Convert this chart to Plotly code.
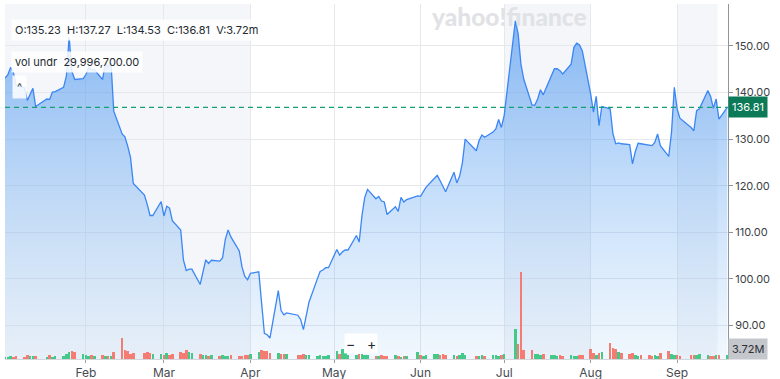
import plotly.graph_objects as go
import pandas as pd

# ---- data ----
holidays = ["2022-01-17", "2022-02-21", "2022-04-15", "2022-05-30",
            "2022-06-20", "2022-07-04", "2022-09-05"]

close_jan = [143.1, 143.8, 145.4, 144.3, 141.5, 141.0, 138.3, 139.5, 140.9, 137.0,
             138.6, 138.5, 140.1, 140.2, 141.1, 143.5, 151.9, 144.5, 142.8, 143.0]
close_feb = [143.8, 145.4, 144.9, 144.9, 142.8, 146.5, 145.4, 146.5, 136.0, 131.1,
             130.5, 128.5, 126.1, 120.5, 118.0, 116.0, 113.6, 113.6, 116.6]
close_mar = [113.5, 115.6, 115.2, 112.5, 110.5, 104.0, 101.8, 102.1, 102.1, 98.8,
             101.5, 104.1, 103.3, 104.0, 103.8, 104.5, 108.5, 110.5, 109.0, 106.0,
             102.5, 100.5, 99.8]
close_apr = [101.2, 101.5, 94.0, 88.3, 88.0, 87.3, 97.5, 93.2, 92.3, 92.7,
             92.2, 91.3, 89.1, 92.0, 95.0, 100.0, 101.6, 101.9, 102.4, 102.4]
close_may = [106.3, 105.1, 105.8, 106.2, 106.2, 109.3, 107.9, 113.6, 117.5, 119.2,
             117.2, 117.7, 116.7, 116.5, 113.8, 115.5, 114.5, 117.5, 116.5, 117.0, 117.8]
close_jun = [117.7, 118.7, 119.7, 121.6, 122.2, 121.1, 119.9, 118.7, 122.9, 120.6,
             122.0, 124.9, 130.0, 127.5, 129.7, 130.9, 130.4, 131.5, 132.2, 134.2, 132.5]
close_jul = [135.1, 155.4, 152.6, 146.1, 142.9, 137.3, 137.3, 138.6, 140.6, 139.5,
             143.5, 145.1, 145.1, 144.7, 144.0, 146.1, 149.7, 150.6, 150.2, 149.0]
close_aug = [139.7, 135.8, 139.2, 132.9, 137.0, 136.5, 131.1, 129.0, 129.2, 129.0,
             128.8, 124.7, 127.3, 129.1, 129.0, 128.8, 128.6, 129.3, 131.1, 128.6,
             126.3, 131.5, 141.1]
close_sep = [136.5, 134.5, 132.5, 131.8, 136.1, 136.5, 140.4, 139.2, 136.6, 138.6,
             134.3, 136.81]

volume_m = [2, 2, 3, 2, 3, 2, 4, 3, 3, 3, 2, 4, 2, 3, 3,
            5, 7, 8, 7, 5,
            4, 3, 4, 3, 4, 3, 3, 3,
            7, 21, 9, 8,
            5, 6, 6, 7, 6, 5, 5,
            4, 6, 4, 5, 7, 6, 9,
            7, 6, 5, 4, 4,
            3, 4, 3, 4, 3, 3, 4, 3, 3, 4,
            4, 5, 7, 9, 8, 8, 6,
            6, 5, 5, 5, 4, 4, 5,
            4, 4, 3, 4, 3, 3, 4, 8,
            5, 10, 6, 4, 4, 5, 5,
            4, 4, 3, 3, 4, 3, 3, 4, 3, 2,
            3, 3, 7,
            4, 3, 4, 5, 5, 4, 5, 4, 4, 3, 4, 6, 4, 3,
            3, 4, 3, 4, 4, 3, 4, 5,
            30, 15, 87,
            9, 9, 5, 5, 4, 5, 4, 4,
            3, 4, 3, 4, 3, 3, 4, 4,
            10, 6, 4, 6, 7, 16, 11, 10, 7, 6, 5, 6,
            4, 3, 4, 4, 3, 4, 3,
            6, 8,
            5, 4, 4, 3, 4, 4,
            4, 5, 4, 3, 3, 4, 4, 3.72]

price_ticks = [90, 100, 110, 120, 130, 140, 150]
last_price = 136.81
ohlc_text = "O:135.23\u00a0\u00a0H:137.27\u00a0\u00a0L:134.53\u00a0\u00a0C:136.81\u00a0\u00a0V:3.72m"
vol_text = "vol undr\u00a0\u00a029,996,700.00"
last_vol_text = "3.72M"

shaded_periods = [("2022-01-01", "2022-04-01"), ("2022-07-01", "2022-08-01"),
                  ("2022-09-01", "2022-09-15 12:00")]

# ---- build ----
close = close_jan + close_feb + close_mar + close_apr + close_may + close_jun + close_jul + close_aug + close_sep
dates = pd.bdate_range("2022-01-03", "2022-09-19", freq="C", holidays=holidays)
n = min(len(dates), len(close), len(volume_m))
dates = dates[:n]
close = close[:n]
volume_m = volume_m[:n]

GREEN = "#45c98b"
RED = "#f47c72"
vol_colors = [GREEN] + [GREEN if close[i] >= close[i - 1] else RED for i in range(1, n)]

FONT = "Inter, Roboto, sans-serif"

# plot area in pixels
L, R, T, B = 5, 52, 4, 20
W = 780 - L - R
H = 379 - T - B
BOTTOM = 379 - B

fig = go.Figure()
fig.add_trace(go.Scatter(
    x=dates, y=close, mode="lines",
    line=dict(color="#3a86f5", width=1.3),
    fill="tozeroy",
    fillgradient=dict(type="vertical",
                      colorscale=[[0, "rgba(110,175,240,0.10)"], [1, "rgba(40,130,240,0.55)"]],
                      start=83, stop=156),
    hoverinfo="skip",
))
fig.add_trace(go.Bar(
    x=dates, y=volume_m, yaxis="y2",
    marker=dict(color=vol_colors, line=dict(width=0)),
    width=0.92 * 86400000,
    hoverinfo="skip",
))

shapes = []
for a, b in shaded_periods:
    shapes.append(dict(type="rect", xref="x", yref="paper", x0=a, x1=b, y0=0, y1=1,
                       fillcolor="#f4f6f9", line=dict(width=0), layer="below"))
shapes.append(dict(type="line", xref="paper", yref="y", x0=0, x1=1, y0=last_price, y1=last_price,
                   line=dict(color="#16a06f", width=1.1, dash="5px,4px"), layer="above"))


def px(X):
    return (X - L) / W


def py(Y):
    return (BOTTOM - Y) / H


annotations = [
    dict(text=ohlc_text, xref="paper", yref="paper", x=px(11), y=py(19), xanchor="left", yanchor="top",
         showarrow=False, font=dict(family=FONT, size=11, color="#232a31"),
         bgcolor="rgba(255,255,255,0.85)", borderpad=3),
    dict(text=vol_text, xref="paper", yref="paper", x=px(11), y=py(51), xanchor="left", yanchor="top",
         showarrow=False, font=dict(family=FONT, size=11, color="#232a31"),
         bgcolor="rgba(255,255,255,0.85)", borderpad=3),
    dict(text="^", xref="paper", yref="paper", x=px(12), y=py(75), xanchor="left", yanchor="top",
         showarrow=False, font=dict(family=FONT, size=11, color="#232a31"),
         bgcolor="rgba(255,255,255,0.85)", borderpad=4),
    dict(text="\u2212\u00a0\u00a0\u00a0+", xref="paper", yref="paper", x=px(344), y=py(343),
         xanchor="left", yanchor="middle", showarrow=False,
         font=dict(family=FONT, size=14, color="#232a31"),
         bgcolor="rgba(255,255,255,0.9)", borderpad=1),
    dict(text="yahoo!finance", xref="paper", yref="paper", x=px(509), y=py(17), xanchor="center",
         yanchor="middle", showarrow=False,
         font=dict(family="Lato, sans-serif", size=24.5, color="#e1e2e6", weight=900)),
    dict(text=f"{last_price:.2f}", xref="paper", yref="y", x=1, y=last_price, xanchor="left",
         yanchor="middle", showarrow=False, font=dict(family=FONT, size=11, color="white"),
         bgcolor="#0c7a56", borderpad=3),
    dict(text=last_vol_text, xref="paper", yref="y2", x=1, y=10, xanchor="left",
         yanchor="middle", showarrow=False, font=dict(family=FONT, size=11, color="#2c3036"),
         bgcolor="#c4c7cb", borderpad=3),
]

fig.update_layout(
    width=780, height=379,
    margin=dict(l=L, r=R, t=T, b=B),
    plot_bgcolor="white", paper_bgcolor="white",
    showlegend=False,
    bargap=0,
    xaxis=dict(type="date", range=["2022-01-03", "2022-09-19 06:00"],
               dtick="M1", tick0="2022-01-01", tickformat="%b",
               showgrid=True, gridcolor="#e6e8eb", gridwidth=1,
               ticks="outside", ticklen=3, tickcolor="#9aa0a6",
               showline=True, linecolor="#d3d6da", linewidth=1,
               tickfont=dict(family=FONT, size=12, color="#464b52"),
               automargin=False, fixedrange=True),
    yaxis=dict(side="right", range=[82.8, 159.0],
               tickvals=price_ticks, ticktext=[f"{v:.2f}" for v in price_ticks],
               showgrid=True, gridcolor="#e6e8eb", gridwidth=1, zeroline=False,
               ticks="outside", ticklen=4, tickcolor="#8f959c",
               showline=True, linecolor="#8f959c", linewidth=1,
               tickfont=dict(family=FONT, size=11, color="#3b3f45"),
               automargin=False, fixedrange=True),
    yaxis2=dict(overlaying="y", range=[0, H], visible=False, fixedrange=True),
    shapes=shapes,
    annotations=annotations,
)

fig.write_html("out.html",
               config={"displayModeBar": False},
               post_script="document.body.style.margin='0';document.body.style.padding='0';"
                           "document.body.style.overflow='hidden';")
